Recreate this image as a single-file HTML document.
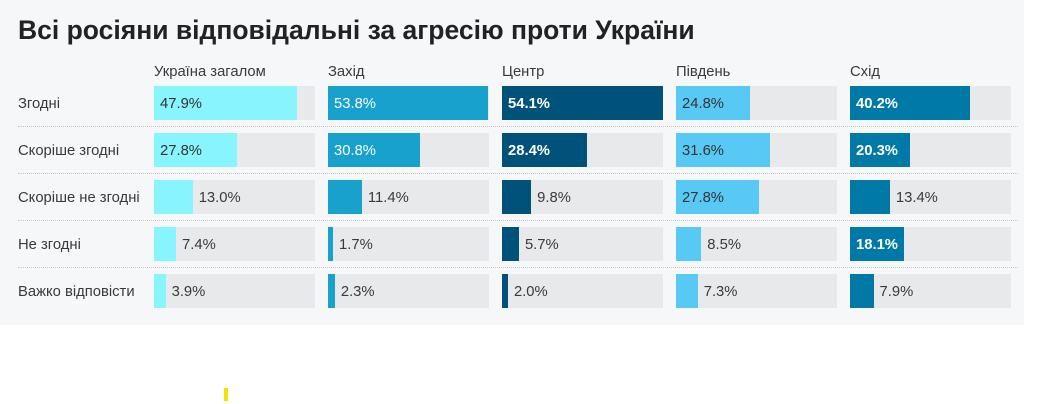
<!DOCTYPE html>
<html><head><meta charset="utf-8"><style>
body{margin:0;width:1038px;height:404px;background:#fff;font-family:"Liberation Sans",sans-serif;overflow:hidden;position:relative}
#panel{position:absolute;left:0;top:0;width:1024px;height:325px;background:#f6f7f9}
h1{position:absolute;left:18px;top:15px;margin:0;font-size:26.5px;font-weight:bold;color:#222;white-space:nowrap}
.t{position:absolute;font-size:14.8px;color:#3a3a3a;white-space:nowrap}
.sep{position:absolute;left:18px;width:1000px;border-top:1px dotted #c9c9c9;height:0}
.bg{position:absolute;background:#e8e9eb;height:34px}
.bar{position:absolute;height:34px}
.v{position:absolute;font-size:14.8px;line-height:34px;white-space:nowrap}
</style></head><body>
<div id="panel"></div>
<h1>Всі росіяни відповідальні за агресію проти України</h1>
<div id="chart"></div>
<div style="position:absolute;left:224px;top:388px;width:4px;height:13px;background:#f5e000"></div>
<script>
const regions=["Україна загалом","Захід","Центр","Південь","Схід"];
const answers=["Згодні","Скоріше згодні","Скоріше не згодні","Не згодні","Важко відповісти"];
const ukraine=[47.9,27.8,13.0,7.4,3.9];
const west=[53.8,30.8,11.4,1.7,2.3];
const center=[54.1,28.4,9.8,5.7,2.0];
const south=[24.8,31.6,27.8,8.5,7.3];
const east=[40.2,20.3,13.4,18.1,7.9];
const series=[ukraine,west,center,south,east];
const colors=["#88f4fd","#18a1cd","#00527a","#58c8f4","#0079a7"];
const insideColor=["#333","#fff","#fff","#333","#fff"];
const insideBold=[false,false,true,false,true];
const maxV=Math.max(...series.flat());
const colX=i=>154+i*174, W=161;
const rowY=j=>86+j*47;
const xs=v=>v/maxV*W;
const c=document.getElementById('chart');
function mk(cls,css,txt){const d=document.createElement('div');d.className=cls;Object.assign(d.style,css);if(txt!==undefined)d.textContent=txt;c.appendChild(d);return d;}
regions.forEach((r,i)=>{
  const h=mk('t',{left:colX(i)+'px',top:'64px'},r);
  
  
});
answers.forEach((a,j)=>{
  const l=mk('t',{left:'18px',top:(rowY(j)+10)+'px'},a);
  
  
  if(j<answers.length-1){
    const s=mk('sep',{top:(rowY(j)+40)+'px'});
    
    
  }
  series.forEach((arr,i)=>{
    const v=arr[j];
    const bg=mk('bg',{left:colX(i)+'px',top:rowY(j)+'px',width:W+'px'});
    
    
    const w=xs(v);
    const b=mk('bar',{left:colX(i)+'px',top:rowY(j)+'px',width:w+'px',background:colors[i]});
    
    
    const inside=v>=16;
    const t=mk('v',{top:(rowY(j)+1)+'px',left:(inside?colX(i)+6:colX(i)+w+6)+'px',color:inside?insideColor[i]:'#3a3a3a',fontWeight:(inside&&insideBold[i])?'bold':'normal'},v.toFixed(1)+'%');
    
    
  });
});
</script>
</body></html>
